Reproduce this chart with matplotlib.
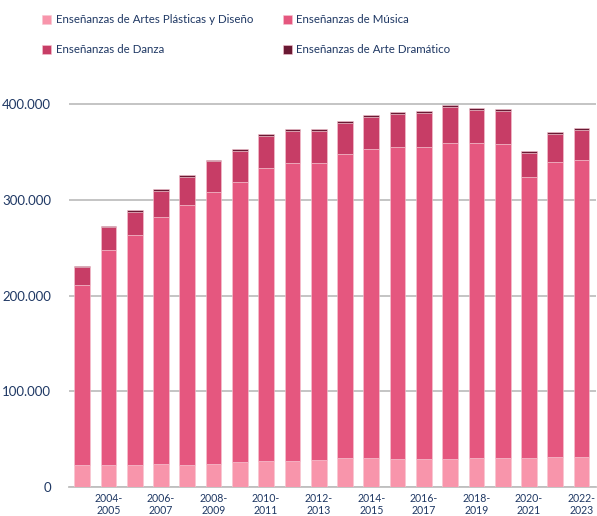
import matplotlib.pyplot as plt
import numpy as np

cursos = ['2003-\n2004', '2004-\n2005', '2005-\n2006', '2006-\n2007', '2007-\n2008',
          '2008-\n2009', '2009-\n2010', '2010-\n2011', '2011-\n2012', '2012-\n2013',
          '2013-\n2014', '2014-\n2015', '2015-\n2016', '2016-\n2017', '2017-\n2018',
          '2018-\n2019', '2019-\n2020', '2020-\n2021', '2021-\n2022', '2022-\n2023']

artes = [23.0, 23.0, 23.0, 23.7, 23.0, 24.0, 26.1, 27.2, 27.0, 28.2,
         30.0, 30.0, 28.9, 29.0, 29.6, 30.3, 30.3, 30.3, 31.0, 31.3]
musica = [188.0, 225.2, 240.2, 258.3, 271.5, 284.1, 292.4, 306.0, 311.4, 310.5,
          317.8, 323.7, 326.2, 326.1, 329.7, 329.0, 327.9, 293.5, 308.4, 310.2]
danza = [19.1, 23.7, 24.3, 27.5, 30.0, 32.4, 32.4, 33.7, 34.1, 33.4,
         32.7, 33.4, 35.1, 35.8, 37.6, 34.7, 34.8, 25.3, 29.6, 32.1]
dramatico = [1.0, 1.4, 1.8, 1.7, 1.3, 1.7, 2.1, 2.1, 2.1, 1.8,
             1.7, 2.1, 2.1, 2.5, 2.0, 2.5, 2.5, 1.8, 2.1, 2.1]

series = [
    ('Enseñanzas de Artes Plásticas y Diseño', artes, '#F895AB'),
    ('Enseñanzas de Música', musica, '#E5577F'),
    ('Enseñanzas de Danza', danza, '#C73D66'),
    ('Enseñanzas de Arte Dramático', dramatico, '#6A1933'),
]

plt.rcParams['font.family'] = ['Lato', 'DejaVu Sans']
texto = '#1F3864'

fig = plt.figure(figsize=(5.97, 5.16), dpi=100)
ax = fig.add_axes([69 / 597, 29 / 516, 527 / 597, 421 / 516])

x = np.arange(len(cursos))
bottom = np.zeros(len(cursos))
handles = []
for label, vals, color in series:
    v = np.array(vals) * 1000
    b = ax.bar(x, v, 0.6, bottom=bottom, color=color, label=label,
               edgecolor='#F7C6D2', linewidth=0.4, zorder=3)
    handles.append(b)
    bottom += v

ax.set_xlim(-0.5, 19.55)
ax.set_ylim(0, 440000)
ax.set_yticks([0, 100000, 200000, 300000, 400000])
ax.set_yticklabels(['0', '100.000', '200.000', '300.000', '400.000'])
ax.set_xticks(x[1::2])
ax.set_xticklabels(cursos[1::2])
ax.yaxis.grid(True, color='#BFBFBF', linewidth=1.3, zorder=0)
ax.tick_params(length=0, colors=texto, labelsize=9.5)
ax.tick_params(axis='x', labelsize=7.6, pad=4)
ax.tick_params(axis='y', pad=13)
for s in ['top', 'right', 'left']:
    ax.spines[s].set_visible(False)
ax.spines['bottom'].set_color('#BFBFBF')
ax.spines['bottom'].set_linewidth(1.3)

# leyenda por filas: columna 1 = Artes, Danza; columna 2 = Música, Dramático
orden = [0, 2, 1, 3]
fig.legend(handles=[handles[i] for i in orden], loc='upper left',
           bbox_to_anchor=(32 / 597, 1 - 4 / 516),
           ncol=2, frameon=False, fontsize=8.3, labelcolor=texto,
           handlelength=0.75, handleheight=0.75, handletextpad=0.4,
           columnspacing=2.6, labelspacing=1.65)

fig.savefig('out.png', dpi=100)
